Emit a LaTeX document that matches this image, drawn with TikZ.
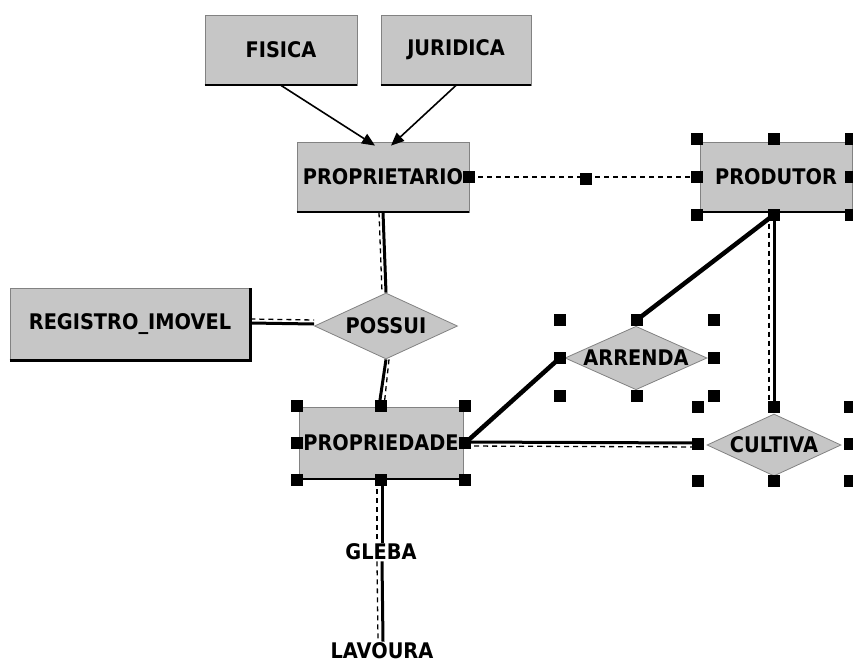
\documentclass[tikz,border=0pt]{standalone}
\usepackage{fontspec}
\usetikzlibrary{shapes.geometric,arrows.meta}
\newfontfamily\erfont{DejaVu Sans}[FakeStretch=0.9]
\definecolor{boxgray}{RGB}{198,198,198}
\definecolor{boxedge}{RGB}{130,130,130}
\newcommand{\lbl}{\erfont\bfseries\fontsize{21.5}{24}\selectfont}
\begin{document}
\begin{tikzpicture}[x=1pt,y=-1pt,
  entity/.style={rectangle, fill=boxgray, draw=boxedge, line width=0.8pt, inner sep=0pt, font=\lbl},
  relation/.style={diamond, aspect=2.2, fill=boxgray, draw=boxedge, line width=0.8pt, inner sep=0pt, font=\lbl},
  plainlbl/.style={inner sep=1pt, font=\lbl},
  selframe/.style={rectangle, inner sep=0pt, draw=none},
  handle/.style={rectangle, fill=black, minimum size=12pt, inner sep=0pt},
  heavy/.style={line width=4.5pt},
  link/.style={line width=3pt},
  ghost/.style={line width=1.3pt, dash pattern=on 5pt off 4pt},
  isa/.style={line width=1.6pt, -{Triangle[length=13pt,width=11pt]}}
]
\useasboundingbox (0,0) rectangle (853,666);

% entities
\node[entity, minimum width=152pt, minimum height=70pt] (fis) at (281,50) {FISICA};
\node[entity, minimum width=150pt, minimum height=70pt] (jur) at (456,50) {JURIDICA};
\node[entity, minimum width=172pt, minimum height=70pt] (prop) at (383,177) {PROPRIETARIO};
\node[entity, minimum width=152pt, minimum height=70pt] (prod) at (776,177) {PRODUTOR};
\node[entity, minimum width=240pt, minimum height=72pt] (reg) at (130,324) {REGISTRO\_IMOVEL};
\node[entity, minimum width=164pt, minimum height=72pt] (propr) at (381,443) {PROPRIEDADE};

% heavier bottom edges of the boxes
\foreach \n in {fis,jur,prop,prod,propr}
  \draw[line width=2pt] (\n.south west) -- (\n.south east);
\draw[line width=3.5pt] (reg.south west) -- (reg.south east) -- (reg.north east);

% relationships
\node[relation, minimum width=143pt, minimum height=66pt] (possui) at (386,326) {POSSUI};
\node[relation, minimum width=142pt, minimum height=62pt] (arr) at (636,358) {ARRENDA};
\node[relation, minimum width=134pt, minimum height=62pt] (cult) at (774,445) {CULTIVA};

% attribute path
\node[plainlbl] (gleba) at (381,552) {GLEBA};
\node[plainlbl] (lav) at (382,651) {LAVOURA};

% selection frames
\node[selframe, minimum width=153pt, minimum height=75pt] (prodsel) at (774,177) {};
\node[selframe, minimum width=168pt, minimum height=74pt] (proprsel) at (381,443) {};
\node[selframe, minimum width=154pt, minimum height=76pt] (arrsel) at (637,358) {};
\node[selframe, minimum width=152pt, minimum height=74pt] (cultsel) at (774,444) {};
\coordinate (mid) at (586,179);

% generalisation arrows
\draw[isa] (fis.south) -- ([xshift=-8pt,yshift=-4pt]prop.north);
\draw[isa] (jur.south) -- ([xshift=8pt,yshift=-4pt]prop.north);

% proprietario -- produtor
\draw[ghost] (prop.east) -- (prod.west);

% proprietario -- possui -- propriedade
\draw[link] (prop.south) -- (possui.north);
\draw[ghost] ([xshift=-4pt]prop.south) -- ([xshift=-4pt]possui.north);
\draw[link] (possui.south) -- ([xshift=-2pt]propr.north);
\draw[ghost] ([xshift=3pt]possui.south) -- ([xshift=3pt]propr.north);

% registro -- possui (dashed trace runs just above)
\draw[link] ([yshift=1pt]reg.east) -- ([yshift=2pt]possui.west);
\draw[ghost] ([yshift=5pt]reg.east) -- ([yshift=6pt]possui.west);

% propriedade -- arrenda -- produtor
\draw[heavy] (proprsel.east) -- (arrsel.west);
\draw[heavy] (arrsel.north) -- (prodsel.south);

% propriedade -- cultiva (dashed trace just below) -- produtor
\draw[link] ([yshift=1pt]proprsel.east) -- ([yshift=1pt]cultsel.west);
\draw[ghost] ([yshift=-3pt]proprsel.east) -- ([yshift=-3pt]cultsel.west);
\draw[link] (prodsel.south) -- (cultsel.north);
\draw[ghost] ([xshift=-5pt]prodsel.south) -- ([xshift=-5pt]cultsel.north);

% propriedade -- gleba -- lavoura
\draw[link] ([xshift=1pt]proprsel.south) -- ([xshift=1pt]gleba.north);
\draw[ghost] ([xshift=-4pt]proprsel.south) -- ([xshift=-4pt]gleba.north);
\draw[link] ([xshift=1pt]gleba.south) -- ([xshift=1pt]lav.north);
\draw[ghost] ([xshift=-4pt]gleba.south) -- ([xshift=-4pt]lav.north);

% selection handles
\node[handle] (ph) at (prop.east) {};
\node[handle] (mh) at (mid) {};
\foreach \a [count=\i] in {north west,north,north east,west,east,south west,south,south east}{
  \node[handle] (hp\i) at (prodsel.\a) {};
  \node[handle] (hq\i) at (proprsel.\a) {};
  \node[handle] (ha\i) at (arrsel.\a) {};
  \node[handle] (hc\i) at (cultsel.\a) {};
}
\end{tikzpicture}
\end{document}
